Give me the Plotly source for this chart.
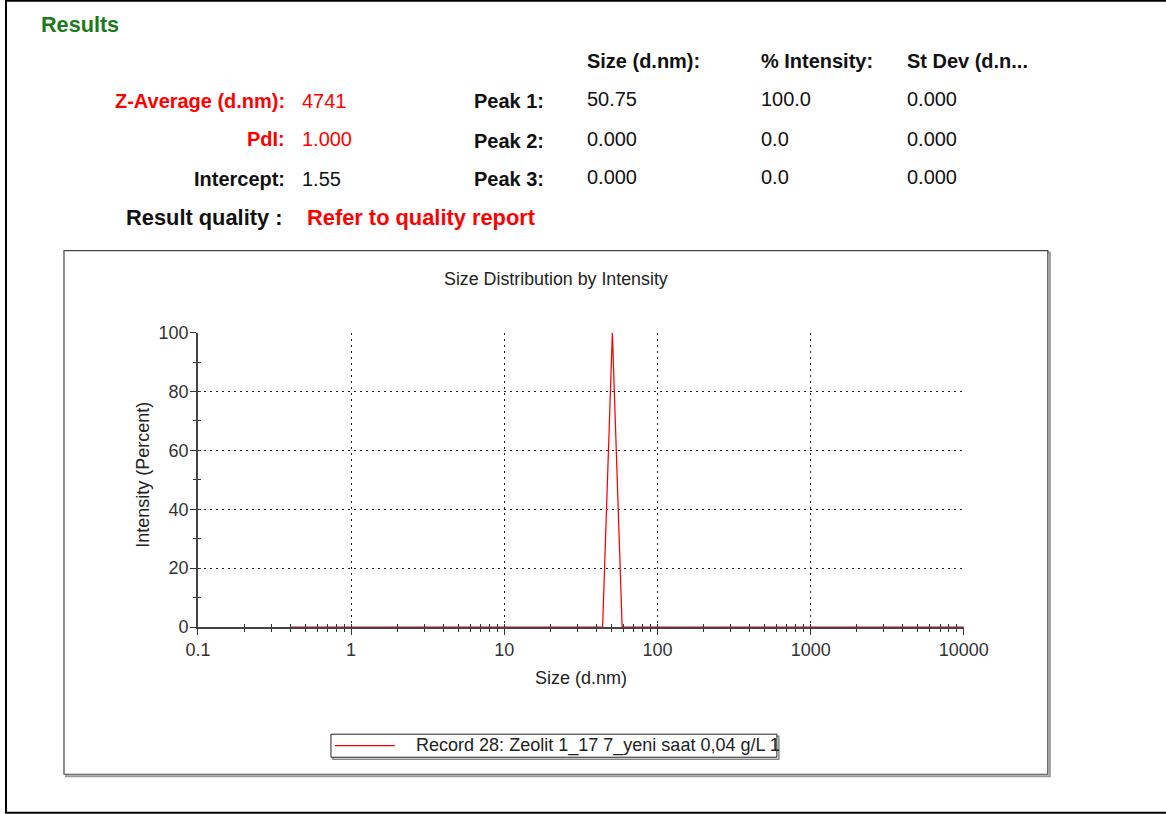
import plotly.graph_objects as go

# Size distribution by intensity (single record)
size_nm = [0.4, 43.82, 50.75, 58.77, 10000]
intensity_pct = [0.0, 0.0, 100.0, 0.0, 0.0]
record_name = "Record 28: Zeolit 1_17 7_yeni saat 0,04 g/L 1"

x_major = [0.1, 1, 10, 100, 1000, 10000]
x_major_text = ["0.1", "1", "10", "100", "1000", "10000"]
x_minor = [m * d for d in [0.1, 1, 10, 100, 1000] for m in range(2, 10)]
y_major = [0, 20, 40, 60, 80, 100]
y_minor = [10, 30, 50, 70, 90]

# Results summary table
summary_labels = ["Z-Average (d.nm):", "PdI:", "Intercept:"]
summary_values = ["4741", "1.000", "1.55"]
summary_colors = ["#ff0000", "#ff0000", "#111111"]
peak_labels = ["Peak 1:", "Peak 2:", "Peak 3:"]
peak_columns = ["Size (d.nm):", "% Intensity:", "St Dev (d.n..."]
peak_sizes = ["50.75", "0.000", "0.000"]
peak_intensity = ["100.0", "0.0", "0.0"]
peak_stdev = ["0.000", "0.000", "0.000"]

# page geometry: layout positions are given in page pixels and converted
# to paper fractions of the figure, which sits inside the body margin
OX, OY = 13.0, 10.8
SX, SY = 0.9685, 0.9745
W, H = 1200, 828
FS = 1 / 0.971  # font scale for the page
FONT = "Liberation Sans, Arial, sans-serif"


def px(x):
    return (x - OX) / SX / W


def py(y):
    return 1 - (y - OY) / SY / H


def fs(size):
    return round(size * FS, 2)


fig = go.Figure()
fig.add_trace(go.Scatter(
    x=size_nm, y=intensity_pct, mode="lines", name=record_name,
    line=dict(color="#ff0000", width=1.25), showlegend=False,
))
# helper trace so the overlay axes (inner tick halves) get drawn
fig.add_trace(go.Scatter(x=[1], y=[None], xaxis="x2", yaxis="y2",
                         showlegend=False, hoverinfo="skip"))

axis_font = dict(family=FONT, size=fs(17.5), color="#333333")
grid = dict(showgrid=True, gridcolor="#222222", gridwidth=1, griddash="2px,4px")

fig.update_layout(
    width=W, height=H,
    margin=dict(l=0, r=0, t=0, b=0),
    paper_bgcolor="white", plot_bgcolor="rgba(0,0,0,0)",
    font=dict(family=FONT, color="#333333"),
    xaxis=dict(
        type="log", range=[-1, 4], domain=[px(198), px(964)],
        tickmode="array", tickvals=x_major, ticktext=x_major_text,
        ticks="outside", ticklen=6, tickwidth=1.2, tickcolor="#333333",
        minor=dict(tickmode="array", tickvals=x_minor, ticks="outside",
                   ticklen=3, tickwidth=1.2, tickcolor="#333333", showgrid=False),
        showline=True, linecolor="#444444", linewidth=1.5,
        zeroline=False, tickfont=axis_font, ticklabelstandoff=0, **grid,
    ),
    yaxis=dict(
        range=[0, 100], domain=[py(627), py(333)],
        tickmode="array", tickvals=y_major,
        ticks="outside", ticklen=6, tickwidth=1.2, tickcolor="#333333",
        minor=dict(tickmode="array", tickvals=y_minor, ticks="outside",
                   ticklen=3, tickwidth=1.2, tickcolor="#333333", showgrid=False),
        showline=True, linecolor="#444444", linewidth=1.5,
        zeroline=False, tickfont=axis_font, ticklabelstandoff=-2, **grid,
    ),
    xaxis2=dict(
        type="log", range=[-1, 4], domain=[px(198), px(964)], overlaying="x",
        anchor="y2", tickmode="array", tickvals=x_major + x_minor,
        ticks="inside", ticklen=3, tickwidth=1.2, tickcolor="#333333",
        showticklabels=False, showgrid=False, showline=False, zeroline=False,
    ),
    yaxis2=dict(
        range=[0, 100], domain=[py(627), py(333)], overlaying="y",
        anchor="x2", tickmode="array", tickvals=y_major + y_minor,
        ticks="inside", ticklen=3, tickwidth=1.2, tickcolor="#333333",
        showticklabels=False, showgrid=False, showline=False, zeroline=False,
    ),
    showlegend=False,
)

shapes = []
# outer page frame
shapes.append(dict(type="rect", xref="paper", yref="paper",
                   x0=px(6), x1=px(1190), y0=py(812.5), y1=py(1.5),
                   line=dict(color="#000000", width=2)))
# chart panel with a light drop shadow
shapes.append(dict(type="rect", xref="paper", yref="paper", layer="below",
                   x0=px(66), x1=px(1050), y0=py(776), y1=py(253),
                   line=dict(color="#9a9a9a", width=2)))
shapes.append(dict(type="rect", xref="paper", yref="paper", layer="below",
                   x0=px(64), x1=px(1048), y0=py(774), y1=py(251),
                   line=dict(color="#444444", width=1.2), fillcolor="white"))
# legend box (with shadow) and its line sample
shapes.append(dict(type="rect", xref="paper", yref="paper",
                   x0=px(333), x1=px(779), y0=py(759), y1=py(736),
                   line=dict(color="#8a8a8a", width=1.5)))
shapes.append(dict(type="rect", xref="paper", yref="paper",
                   x0=px(331), x1=px(777), y0=py(757), y1=py(734),
                   line=dict(color="#222222", width=1), fillcolor="white"))
shapes.append(dict(type="line", xref="paper", yref="paper",
                   x0=px(335), x1=px(395), y0=py(745.5), y1=py(745.5),
                   line=dict(color="#ff0000", width=1.25)))
fig.update_layout(shapes=shapes)

ann = []


def text(x, y, s, size=19.4, color="#111111", bold=False, anchor="left"):
    nudge = -2.5 if anchor == "left" else 1.5
    ann.append(dict(
        xref="paper", yref="paper", x=px(x + nudge), y=py(y),
        text=f"<b>{s}</b>" if bold else s,
        showarrow=False, xanchor=anchor, yanchor="middle",
        font=dict(family=FONT, size=fs(size), color=color),
    ))


text(42, 25, "Results", size=21, color="#1a7a1a", bold=True)

for label, value, color, y in zip(summary_labels, summary_values, summary_colors, [102, 140, 180]):
    text(286, y, label, color=color, bold=True, anchor="right")
    text(303, y, value, color=color)

text(283, 218, "Result quality :", size=21.2, bold=True, anchor="right")
text(308, 218, "Refer to quality report", size=21.2, color="#ff0000", bold=True)

for col, x in zip(peak_columns, [588, 762, 908]):
    text(x, 62, col, bold=True)
for i, y in enumerate([100, 140, 178]):
    text(545, y + 2, peak_labels[i], bold=True, anchor="right")
    text(588, y, peak_sizes[i])
    text(762, y, peak_intensity[i])
    text(908, y, peak_stdev[i])

# chart title and axis titles
ann.append(dict(xref="paper", yref="paper", x=px(556), y=py(279),
                text="Size Distribution by Intensity", showarrow=False,
                xanchor="center", yanchor="middle",
                font=dict(family=FONT, size=fs(17.3), color="#222222")))
ann.append(dict(xref="paper", yref="paper", x=px(581), y=py(678),
                text="Size (d.nm)", showarrow=False,
                xanchor="center", yanchor="middle",
                font=dict(family=FONT, size=fs(17.5), color="#222222")))
ann.append(dict(xref="paper", yref="paper", x=px(143), y=py(475),
                text="Intensity (Percent)", showarrow=False, textangle=-90,
                xanchor="center", yanchor="middle",
                font=dict(family=FONT, size=fs(17.5), color="#222222")))
# legend entry text for the record
ann.append(dict(xref="paper", yref="paper", x=px(414), y=py(745.5),
                text=record_name, showarrow=False,
                xanchor="left", yanchor="middle",
                font=dict(family=FONT, size=fs(17.5), color="#222222")))
fig.update_layout(annotations=ann)

fig.write_html("out.html")
